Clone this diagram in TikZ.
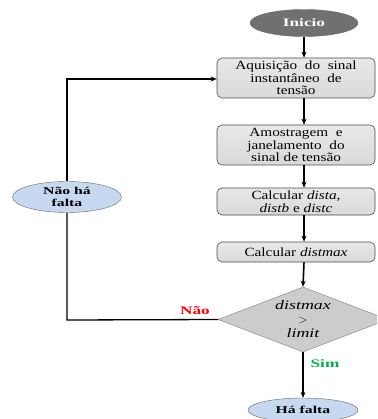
\documentclass[tikz,border=0pt]{standalone}
\usepackage{fontspec}
\setmainfont[FakeStretch=1.22]{Liberation Serif}
\newfontfamily\widefont[FakeStretch=1.5]{Liberation Serif}
\newfontfamily\midfont[FakeStretch=1.38]{Liberation Serif}
\usetikzlibrary{shapes.geometric,arrows.meta}
\definecolor{boxgray}{RGB}{217,217,217}
\definecolor{diagray}{RGB}{204,204,204}
\definecolor{startgray}{RGB}{112,112,112}
\definecolor{lightblue}{RGB}{198,217,241}
\definecolor{simgreen}{RGB}{0,176,80}
\tikzset{
  procbox/.style={draw=black!70, line width=0.6pt, rounded corners=5pt, top color=boxgray!60, bottom color=boxgray, minimum width=158pt, align=center, inner sep=1pt, font=\fontsize{12.5}{12.5}\selectfont},
  startell/.style={ellipse, draw=black!60, fill=startgray, text=white, font=\widefont\bfseries\fontsize{11.5}{11.5}\selectfont, inner sep=0pt},
  endell/.style={ellipse, draw=black!60, fill=lightblue, font=\widefont\bfseries\fontsize{10.5}{12}\selectfont, align=center, inner sep=0pt},
  decision/.style={diamond, draw=black!50, fill=diagray, aspect=2.6, inner sep=0pt, align=center, font=\midfont\itshape\fontsize{13}{14}\selectfont},
  flow/.style={line width=1.6pt, -{Stealth[length=6pt,width=5pt]}},
  loopline/.style={line width=1.3pt},
  lbl/.style={font=\widefont\bfseries\fontsize{11.5}{11.5}\selectfont}
}
\begin{document}
\begin{tikzpicture}[x=1pt,y=-1pt]
\useasboundingbox (0,0) rectangle (377,419);
\clip (0,0) rectangle (377,419);
\node[startell, minimum width=108pt, minimum height=27pt] (inicio) at (304,23) {Inicio};
\node[procbox, minimum height=40pt] (b1) at (296,78) {Aquisição\ \ do\ \ sinal\\instantâneo\ \ de\\tensão};
\node[procbox, minimum height=40pt] (b2) at (296,145) {Amostragem\ \ e\\janelamento\ \ do\\sinal de tensão};
\node[procbox, minimum height=27pt] (b3) at (296,201.5) {Calcular \textit{dista},\\\textit{distb} e \textit{distc}};
\node[procbox, minimum height=20pt] (b4) at (296,252) {Calcular \textit{distmax}};
\node[decision, minimum width=170pt, minimum height=65pt] (dec) at (303,319.5) {distmax\\$>$\\limit};
\node[endell, minimum width=110pt, minimum height=24pt] (hf) at (303,410) {Há falta};
\node[endell, minimum width=109pt, minimum height=31pt] (nhf) at (67,197) {Não há\\falta};
\coordinate (c1) at (67,320);
\coordinate (c2) at (67,79);
\draw[flow] (inicio.south) -- (inicio.south |- b1.north);
\draw[flow] (inicio.south |- b1.south) -- (inicio.south |- b2.north);
\draw[flow] (inicio.south |- b2.south) -- (inicio.south |- b3.north);
\draw[flow] (inicio.south |- b3.south) -- (inicio.south |- b4.north);
\draw[flow] (inicio.south |- b4.south) -- (dec.north);
\draw[flow] (dec.south) -- (hf.north);
\draw[loopline] (dec.west) -- (c1) -- (nhf.south);
\draw[loopline, -{Stealth[length=6pt,width=5pt]}] (nhf.north) -- (c2) -- (b1.west |- c2);
\node[lbl, text=red] (nao) at (195,311) {Não};
\node[lbl, text=simgreen] (sim) at (325,364) {Sim};
\end{tikzpicture}
\end{document}
